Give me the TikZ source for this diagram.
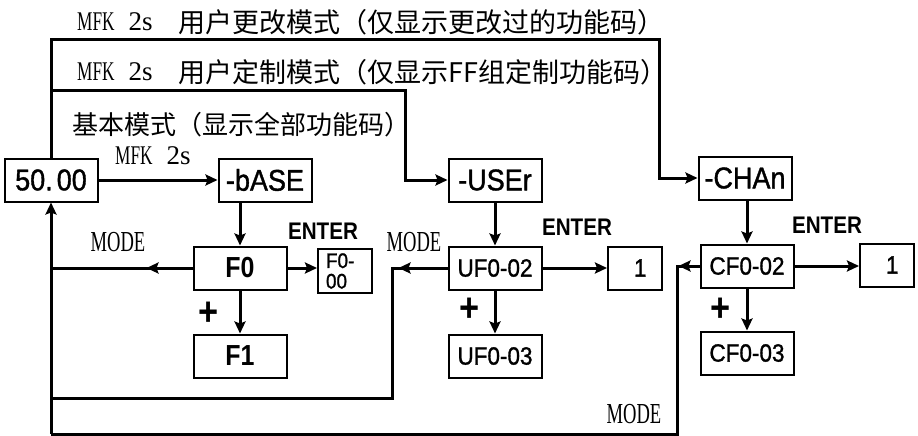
\documentclass[tikz,border=0pt]{standalone}
\usepackage{fontspec}
\setmainfont{Liberation Serif}
\newfontfamily\cjkfont{Noto Sans CJK SC}
\newfontfamily\lcdfont[FakeStretch=0.9,FakeBold=1.2]{Liberation Sans}
\newfontfamily\keyfont[FakeStretch=0.86]{Liberation Sans}
\newfontfamily\narrowserif[FakeStretch=0.64]{Liberation Serif}
\newcommand{\mfkhold}{{\narrowserif MFK}\hspace{14pt}2s}
\usetikzlibrary{positioning,arrows.meta,decorations.markings}
\tikzset{
  mfk tip/.tip={Stealth[length=12pt,width=11pt,inset=2pt]},
  mfk arrow/.style={-mfk tip,line width=3pt,black},
  mfk line/.style={line width=3pt,black},
  mfk mid arrow/.style={mfk line,postaction={decorate},
    decoration={markings,mark=at position #1 with {\arrow{mfk tip}}}},
  mfk box/.style={draw=black,line width=2pt,minimum width=93pt,minimum height=43pt,
    inner sep=0pt,font=\lcdfont\fontsize{30}{32}\selectfont},
  mfk fn box/.style={mfk box,font=\keyfont\bfseries\fontsize{29}{30}\selectfont},
  mfk code box/.style={mfk box,font=\lcdfont\fontsize{25}{27}\selectfont},
  mfk value box/.style={mfk code box,minimum width=54pt,text width=23pt,align=right},
  mfk small box/.style={mfk box,minimum width=54pt,minimum height=44pt,
    font=\lcdfont\fontsize{21}{20.5}\selectfont,text width=38pt,align=left},
  mfk key/.style={font=\keyfont\bfseries\fontsize{24}{26}\selectfont,inner sep=0pt},
  mfk mode/.style={font=\narrowserif\fontsize{29}{30}\selectfont,inner sep=0pt},
  mfk plus/.style={font=\keyfont\bfseries\fontsize{40}{40}\selectfont,inner sep=0pt},
  mfk title/.style={font=\cjkfont\fontsize{27}{29}\selectfont,inner sep=0pt,anchor=west},
  mfk hold/.style={font=\fontsize{27}{29}\selectfont,inner sep=0pt,anchor=west}
}

\begin{document}
\begin{tikzpicture}[x=1pt,y=-1pt]
  \useasboundingbox (0,0) rectangle (918,436);

  % Display boxes.
  \node[mfk box] (main) at (51,180) {50.\kern4pt00};
  \node[mfk box] (base) at (265,180) {-bASE};
  \node[mfk box] (user) at (495,180) {-USEr};
  \node[mfk box] (chan) at (745,178) {-CHAn};
  \node[mfk fn box] (f0) at (240,268) {F0};
  \node[mfk small box] (f000) at (345,271) {F0-\\00};
  \node[mfk fn box] (f1) at (240,356) {F1};
  \node[mfk code box] (uf02) at (495,268) {UF0-02};
  \node[mfk value box] (uval) at (635,268) {1};
  \node[mfk code box] (uf03) at (495,356) {UF0-03};
  \node[mfk code box] (cf02) at (747,266) {CF0-02};
  \node[mfk value box] (cval) at (887,265) {1};
  \node[mfk code box] (cf03) at (747,353) {CF0-03};

  % Mode entry routes.
  \coordinate (top turn) at (659,40);
  \coordinate (mid turn) at (405,90);
  \coordinate (u turn) at (392,398);
  \coordinate (c turn) at (677,434);
  \draw[mfk arrow] (main) -- (base);
  \draw[mfk arrow] (main.north) |- (top turn) |- (chan.west);
  \draw[mfk arrow] (main.north |- mid turn) -- (mid turn) |- (user.west);
  \draw[mfk arrow] (base.south -| f0.north) -- (f0.north);
  \draw[mfk arrow] (user.south -| uf02.north) -- (uf02.north);
  \draw[mfk arrow] (chan.south -| cf02.north) -- (cf02.north);

  % ENTER and + keys.
  \draw[mfk arrow] (f0.east) -- (f0.east -| f000.west);
  \draw[mfk arrow] (uf02) -- (uval);
  \draw[mfk arrow] (cf02.east) -- (cf02.east -| cval.west);
  \draw[mfk arrow] (f0) -- (f1);
  \draw[mfk arrow] (uf02) -- (uf03);
  \draw[mfk arrow] (cf02) -- (cf03);

  % MODE returns.
  \draw[mfk mid arrow=46pt] (f0.west) -- (f0.west -| main.south);
  \draw[mfk mid arrow=49pt] (uf02.west) -| (u turn) -- (u turn -| main.south);
  \draw[mfk mid arrow=21pt] (cf02.west) -| (c turn) -- (c turn -| main.south);
  \draw[mfk arrow] (c turn -| main.south) -- (main.south);

  % Labels.
  \node[mfk hold] (h change) at (77,22) {\mfkhold};
  \node[mfk title] (t change) at (178,22) {用户更改模式（仅显示更改过的功能码）};
  \node[mfk hold] (h custom) at (77,72) {\mfkhold};
  \node[mfk title] (t custom) at (178,72) {用户定制模式（仅显示FF组定制功能码）};
  \node[mfk title,font=\cjkfont\fontsize{26}{28}\selectfont] (t basic) at (72,125)
    {基本模式（显示全部功能码）};
  \node[mfk hold] (h basic) at (115,156) {\mfkhold};
  \node[mfk key] (k f0) at (323,231) {ENTER};
  \node[mfk key] (k u) at (577,227) {ENTER};
  \node[mfk key] (k c) at (827,225) {ENTER};
  \node[mfk mode] (m f0) at (118,242) {MODE};
  \node[mfk mode] (m u) at (414,242) {MODE};
  \node[mfk mode] (m c) at (634,414) {MODE};
  \node[mfk plus] (p f0) at (209,314) {+};
  \node[mfk plus] (p u) at (470,310) {+};
  \node[mfk plus] (p c) at (721,310) {+};
\end{tikzpicture}
\end{document}
